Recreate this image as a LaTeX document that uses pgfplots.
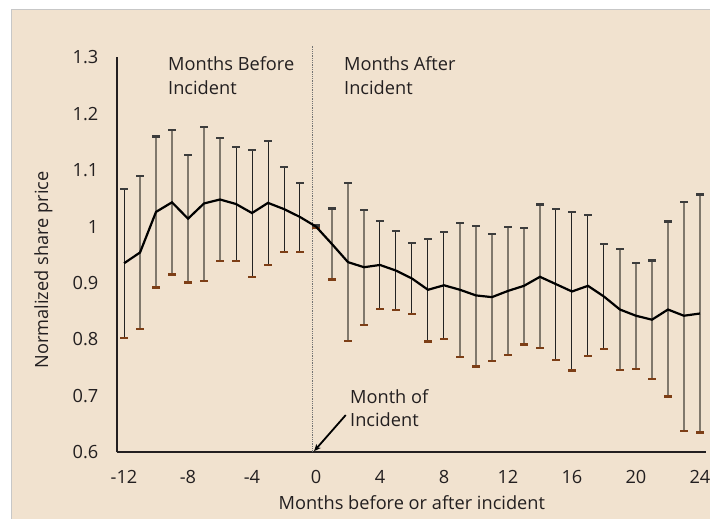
\documentclass[border=0pt]{standalone}
\usepackage{fontspec}
\setmainfont{Open Sans}
\usepackage{pgfplots}
\pgfplotsset{compat=1.18}
\usepackage{pgfplotstable}
\usetikzlibrary{arrows.meta}
\definecolor{bg}{RGB}{241,226,207}
\definecolor{txt}{RGB}{35,31,32}
\definecolor{graybar}{RGB}{128,120,108}
\definecolor{blackbar}{RGB}{35,35,35}
\definecolor{topcap}{RGB}{60,60,60}
\definecolor{botcap}{RGB}{125,62,22}
\newcommand\fsz{\fontsize{18.2bp}{22bp}\selectfont}
\pgfplotstableread{
m y top bot g
-12 0.935 1.067 0.803 0
-11 0.954 1.090 0.819 1
-10 1.026 1.160 0.892 1
-9 1.043 1.171 0.915 1
-8 1.014 1.127 0.901 1
-7 1.041 1.177 0.904 1
-6 1.048 1.157 0.939 1
-5 1.040 1.141 0.939 0
-4 1.024 1.136 0.911 0
-3 1.042 1.152 0.932 0
-2 1.031 1.106 0.955 0
-1 1.017 1.077 0.955 0
0 1.000 1.002 0.998 0
1 0.969 1.032 0.906 1
2 0.937 1.077 0.797 1
3 0.928 1.029 0.826 1
4 0.932 1.010 0.854 0
5 0.922 0.992 0.852 0
6 0.908 0.971 0.845 0
7 0.888 0.978 0.796 0
8 0.896 0.990 0.801 0
9 0.888 1.006 0.769 1
10 0.878 1.001 0.752 1
11 0.875 0.987 0.762 1
12 0.886 0.999 0.772 1
13 0.895 0.997 0.791 1
14 0.911 1.039 0.785 1
15 0.898 1.031 0.764 0
16 0.885 1.026 0.745 0
17 0.895 1.021 0.771 0
18 0.876 0.969 0.783 0
19 0.853 0.960 0.746 1
20 0.842 0.935 0.748 1
21 0.835 0.940 0.730 1
22 0.853 1.009 0.699 1
23 0.842 1.044 0.638 1
24 0.846 1.057 0.635 1
}\datatab
\begin{document}
\begin{tikzpicture}
\useasboundingbox (0,0) rectangle (710bp,519bp);
\fill[white] (0,0) rectangle (710bp,519bp);
\fill[bg] (11.3bp,0) rectangle (710bp,509.7bp);
\draw[black!22, line width=1bp] (11.3bp,0) -- (11.3bp,509.7bp) -- (710bp,509.7bp);
\begin{axis}[
  at={(117.3bp,66.7bp)}, anchor=south west,
  scale only axis, width=588.4bp, height=395bp,
  xmin=-12.42, xmax=24.36, ymin=0.6, ymax=1.3,
  clip=false,
  axis lines*=left,
  axis line style={line width=1.6bp, txt},
  major tick length=0pt,
  xtick={-12,-8,-4,0,4,8,12,16,20,24},
  xticklabels={-12,-8,-4,0,4,8,12,16,20,24},
  ytick={0.6,0.7,0.8,0.9,1,1.1,1.2,1.3},
  yticklabels={0.6,0.7,0.8,0.9,1,1.1,1.2,1.3},
  x tick label style={anchor=north, inner sep=0pt, yshift=-18bp, font=\fsz, text=txt},
  y tick label style={anchor=east, inner sep=0pt, xshift=-18.7bp, font=\fsz, text=txt},
  xlabel={Months before or after incident},
  ylabel={Normalized share price},
  xlabel style={at={(axis description cs:0.5005,-0.127)}, anchor=center, font=\fsz, text=txt, inner sep=0pt},
  ylabel style={at={(axis description cs:-0.1258,0.4615)}, anchor=center, font=\fsz, text=txt, inner sep=0pt},
]
% dotted month-0 line
\addplot[densely dotted, color=black!55, line width=0.8bp, forget plot] coordinates {(-0.23,0.6) (-0.23,1.322)};
% gray bars, upper half
\addplot[draw=none, mark=none, forget plot,
  restrict expr to domain={\thisrow{g}}{0.5:1.5},
  error bars/.cd, y dir=plus, y explicit,
  error bar style={draw=graybar, line width=1.1bp},
  error mark options={rotate=90, draw=topcap, line width=2.4bp, mark size=3.6bp}]
  table[x=m, y=y, y error plus expr=\thisrow{top}-\thisrow{y}] {\datatab};
% gray bars, lower half
\addplot[draw=none, mark=none, forget plot,
  restrict expr to domain={\thisrow{g}}{0.5:1.5},
  error bars/.cd, y dir=minus, y explicit,
  error bar style={draw=graybar, line width=1.1bp},
  error mark options={rotate=90, draw=botcap, line width=2.4bp, mark size=3.6bp}]
  table[x=m, y=y, y error minus expr=\thisrow{y}-\thisrow{bot}] {\datatab};
% black bars, upper half
\addplot[draw=none, mark=none, forget plot,
  restrict expr to domain={\thisrow{g}}{-0.5:0.5},
  error bars/.cd, y dir=plus, y explicit,
  error bar style={draw=blackbar, line width=1.0bp},
  error mark options={rotate=90, draw=topcap, line width=2.4bp, mark size=3.6bp}]
  table[x=m, y=y, y error plus expr=\thisrow{top}-\thisrow{y}] {\datatab};
% black bars, lower half
\addplot[draw=none, mark=none, forget plot,
  restrict expr to domain={\thisrow{g}}{-0.5:0.5},
  error bars/.cd, y dir=minus, y explicit,
  error bar style={draw=blackbar, line width=1.0bp},
  error mark options={rotate=90, draw=botcap, line width=2.4bp, mark size=3.6bp}]
  table[x=m, y=y, y error minus expr=\thisrow{y}-\thisrow{bot}] {\datatab};
% mean line
\addplot[black, line width=2.2bp, mark=none] table[x=m, y=y] {\datatab};
% annotations
\node[anchor=base west, inner sep=0pt, font=\fsz, text=txt] at (axis cs:-9.25,1.276) {Months Before};
\node[anchor=base west, inner sep=0pt, font=\fsz, text=txt] at (axis cs:-9.25,1.2332) {Incident};
\node[anchor=base west, inner sep=0pt, font=\fsz, text=txt] at (axis cs:1.75,1.276) {Months After};
\node[anchor=base west, inner sep=0pt, font=\fsz, text=txt] at (axis cs:1.75,1.2332) {Incident};
\node[anchor=base west, inner sep=0pt, font=\fsz, text=txt] at (axis cs:2.125,0.6856) {Month of};
\node[anchor=base west, inner sep=0pt, font=\fsz, text=txt] at (axis cs:2.125,0.6466) {Incident};
\draw[black, line width=1.8bp, -{Stealth[length=7bp,width=6bp]}] (axis cs:1.86,0.666) -- (axis cs:-0.12,0.602);
\end{axis}
\end{tikzpicture}
\end{document}
